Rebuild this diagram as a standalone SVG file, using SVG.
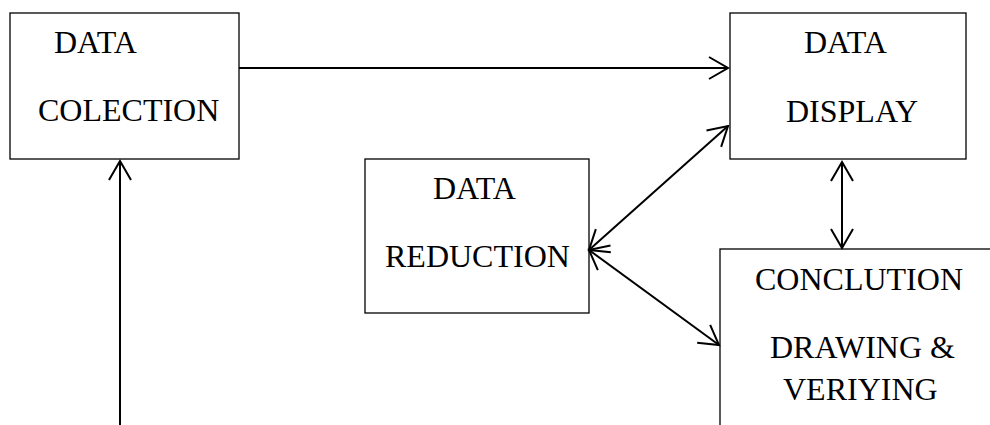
<svg xmlns="http://www.w3.org/2000/svg" width="990" height="425" viewBox="0 0 990 425">
<style>
.box{fill:#fff;stroke:#000;stroke-width:1.3}
.lbl{font-family:"Liberation Serif","Times New Roman",serif;font-size:32px;fill:#000}
.con{fill:none;stroke:#000;stroke-width:2}
</style>
<defs>
<marker id="arr" markerUnits="userSpaceOnUse" markerWidth="26" markerHeight="28" viewBox="-23 -14 26 28" refX="0" refY="0" orient="auto-start-reverse">
<path d="M-19,-11 L0,0 L-19,11" fill="none" stroke="#000" stroke-width="2"/>
</marker>
</defs>
<rect width="990" height="425" fill="#fff"/>
<g id="data-collection">
<rect class="box" x="10" y="13" width="229" height="146"/>
<text class="lbl" x="54" y="53">DATA</text>
<text class="lbl" x="38" y="121">COLECTION</text>
</g>
<g id="data-display">
<rect class="box" x="730" y="13" width="236" height="146"/>
<text class="lbl" x="804" y="53">DATA</text>
<text class="lbl" x="786" y="122">DISPLAY</text>
</g>
<g id="data-reduction">
<rect class="box" x="365" y="159" width="224" height="154"/>
<text class="lbl" x="433" y="199">DATA</text>
<text class="lbl" x="385" y="267">REDUCTION</text>
</g>
<g id="conclusion">
<rect class="box" x="720" y="249" width="300" height="200"/>
<text class="lbl" x="755" y="290">CONCLUTION</text>
<text class="lbl" x="770" y="358">DRAWING &amp;</text>
<text class="lbl" x="783" y="400">VERIYING</text>
</g>
<g id="connectors">
<line class="con" x1="239" y1="68" x2="728" y2="68" marker-end="url(#arr)"/>
<line class="con" x1="120" y1="425" x2="120" y2="161" marker-end="url(#arr)"/>
<line class="con" x1="589" y1="250" x2="728" y2="126" marker-start="url(#arr)" marker-end="url(#arr)"/>
<line class="con" x1="589" y1="250" x2="719" y2="345" marker-start="url(#arr)" marker-end="url(#arr)"/>
<line class="con" x1="842" y1="162" x2="842" y2="248" marker-start="url(#arr)" marker-end="url(#arr)"/>
</g>
</svg>
